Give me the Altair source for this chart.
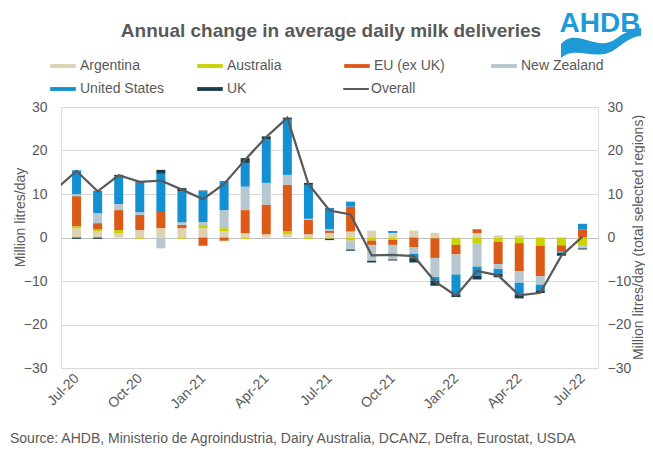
import altair as alt
import pandas as pd

months = ["Jul-20", "Aug-20", "Sep-20", "Oct-20", "Nov-20", "Dec-20",
          "Jan-21", "Feb-21", "Mar-21", "Apr-21", "May-21", "Jun-21",
          "Jul-21", "Aug-21", "Sep-21", "Oct-21", "Nov-21", "Dec-21",
          "Jan-22", "Feb-22", "Mar-22", "Apr-22", "May-22", "Jun-22", "Jul-22"]

series = ["Argentina", "Australia", "EU (ex UK)", "New Zealand", "United States", "UK"]
colors = ["#DDD3B3", "#C9D300", "#DB5A17", "#B6C7CF", "#1290D2", "#1D3E4D"]

argentina = [2.15, 1.45, 0.9, 1.7, 2.15, 2.15, 2.15, 1.45, 1.0, 0.75, 0.75, 0.75,
             1.05, 1.4, 1.6, 1.05, 1.6, 1.1, -0.2, 1.0, 0.5, 0.5, 0.0, 0.0, 0.0]
australia = [0.45, 0.4, 0.8, -0.3, 0.0, -0.3, 0.7, 0.7, -0.3, 0.0, 0.7, -0.3,
             -0.3, -0.7, -0.7, -0.55, 0.0, -0.2, -1.5, -1.3, -1.0, -1.3, -1.9, -1.8, -1.9]
eu = [6.9, 1.45, 4.6, 3.5, 3.7, 0.75, -1.9, -0.75, 5.3, 6.8, 10.7, 3.3,
      0.55, 5.7, -1.0, -1.15, -2.3, -4.5, -2.2, 0.9, -5.1, -6.45, -7.0, -1.5, 1.8]
new_zealand = [0.45, 2.3, 1.4, 0.6, -2.5, 0.6, 0.7, 4.15, 5.4, 5.0, 2.25, 0.25,
               0.3, -2.05, -3.65, -3.35, -1.45, -4.4, -4.6, -5.4, -1.15, -2.65, -1.95, -0.1, -0.6]
united_states = [5.5, 5.15, 6.3, 6.9, 8.8, 7.1, 7.1, 6.55, 5.45, 10.0, 12.7, 7.8,
                 4.9, 1.15, 0.0, 0.45, -1.0, -0.85, -4.6, -2.05, -1.15, -2.7, -1.3, -0.15, 1.35]
uk = [-0.3, -0.3, 0.4, 0.1, 0.9, 0.75, 0.15, 0.15, 1.1, 0.7, 0.45, 0.45,
      -0.3, -0.3, -0.4, -0.25, -1.0, -1.15, -0.6, -0.9, -0.75, -0.9, -0.6, -0.65, -0.25]

# Overall line starts one month earlier (Jun-20), clipped at the plot edge
overall_index = list(range(-1, 25))
overall = [11.0, 15.3, 10.6, 14.3, 12.8, 13.1, 11.0, 8.8, 12.3, 17.9, 23.1, 27.5, 12.3,
           6.2, 5.3, -4.1, -4.0, -4.3, -10.1, -13.4, -7.7, -8.7, -13.3, -12.7, -4.2, 0.2]

tick_values = list(range(0, 25, 3))

values_by_series = [argentina, australia, eu, new_zealand, united_states, uk]
rows = []
for si, (name, vals) in enumerate(zip(series, values_by_series)):
    for i, v in enumerate(vals):
        rows.append({"idx": i, "month": months[i], "series": name, "order": si, "value": v})
bars_df = pd.DataFrame(rows)
line_df = pd.DataFrame({"idx": overall_index, "value": overall, "series": "Overall"})

FONT = "Liberation Sans"
TXT = "#595959"

label_array = "[" + ",".join("'" + m + "'" for m in months) + "]"
x_scale = alt.Scale(domain=[-0.5, 24.5], nice=False, zero=False)
x_axis = alt.Axis(values=tick_values, labelExpr=label_array + "[datum.value]",
                  labelAngle=315, labelAlign="right", labelBaseline="middle",
                  labelFontSize=14, labelFont=FONT, labelColor=TXT, labelPadding=8,
                  ticks=False, domain=False, grid=False, title=None)

grid_color = {"condition": {"test": "datum.value === 0", "value": "#BFBFBF"}, "value": "#D9D9D9"}

swatch = "M-1.6,-0.24L1.6,-0.24L1.6,0.24L-1.6,0.24Z"

bars = alt.Chart(bars_df).mark_bar(size=9).encode(
    x=alt.X("idx:Q", scale=x_scale, axis=x_axis),
    y=alt.Y("value:Q", stack="zero",
            scale=alt.Scale(domain=[-30, 30], nice=False),
            axis=alt.Axis(values=[-30, -20, -10, 0, 10, 20, 30], grid=True, gridColor=grid_color,
                          domain=False, ticks=False, labelFontSize=14, labelFont=FONT,
                          labelColor=TXT, labelPadding=14, title="Million litres/day",
                          titleFontSize=14, titleFont=FONT, titleColor=TXT, titleFontWeight="normal",
                          titleAngle=270, titleX=-41, titleY=110, titleAlign="center",
                          titleBaseline="middle")),
    color=alt.Color("series:N", scale=alt.Scale(domain=series, range=colors),
                    legend=alt.Legend(orient="none", legendX=-6, legendY=-49, direction="horizontal",
                                      columns=4, title=None, symbolType=swatch, symbolSize=256,
                                      symbolStrokeWidth=0, symbolOpacity=1, labelFontSize=14,
                                      labelFont=FONT, labelColor=TXT, labelOffset=9,
                                      gridAlign="all", columnPadding=32, rowPadding=8,
                                      padding=0, labelLimit=200)),
    order=alt.Order("order:Q", sort="ascending"),
)

line = alt.Chart(line_df).mark_line(clip=True, strokeWidth=2.25).encode(
    x=alt.X("idx:Q", scale=x_scale, axis=x_axis),
    y=alt.Y("value:Q", scale=alt.Scale(domain=[-30, 30], nice=False),
            axis=alt.Axis(orient="right", values=[-30, -20, -10, 0, 10, 20, 30], grid=False,
                          domain=False, ticks=False, labelFontSize=14, labelFont=FONT,
                          labelColor=TXT, labelPadding=9,
                          title="Million litres/day (total selected regions)",
                          titleFontSize=14, titleFont=FONT, titleColor=TXT, titleFontWeight="normal",
                          titleAngle=270, titleX=40, titleY=130, titleAlign="center",
                          titleBaseline="middle")),
    stroke=alt.Stroke("series:N", scale=alt.Scale(domain=["Overall"], range=["#595959"]),
                      legend=alt.Legend(orient="none", legendX=286, legendY=-27, title=None,
                                        symbolType="M-1.6,0L1.6,0", symbolSize=256,
                                        symbolStrokeWidth=2, labelFontSize=14, labelFont=FONT,
                                        labelColor=TXT, labelOffset=6, padding=0)),
)

one = pd.DataFrame({"t": [0]})
title = alt.Chart(one).mark_text(text="Annual change in average daily milk deliveries",
                                 fontSize=19, fontWeight="bold", font=FONT, color=TXT,
                                 align="center", baseline="alphabetic").encode(
    x=alt.value(270), y=alt.value(-70))
source = alt.Chart(one).mark_text(
    text="Source: AHDB, Ministerio de Agroindustria, Dairy Australia, DCANZ, Defra, Eurostat, USDA",
    fontSize=14, font=FONT, color=TXT, align="left", baseline="alphabetic").encode(
    x=alt.value(-51), y=alt.value(336))
logo = alt.Chart(one).mark_text(text="AHDB", fontSize=28, fontWeight="bold", font=FONT,
                                color="#1E9BD7", align="center", baseline="alphabetic").encode(
    x=alt.value(539), y=alt.value(-75))
wave = alt.Chart(one).mark_point(
    shape="M-1,0.1 C-0.6,-0.35 -0.1,0.35 0.4,-0.05 C0.6,-0.2 0.85,-0.3 1,-0.3 L1,-0.1 C0.8,-0.1 0.6,0.05 0.4,0.2 C-0.1,0.6 -0.6,0.1 -1,0.45 Z",
    filled=True, color="#1E9BD7", opacity=1, size=6400, strokeWidth=0).encode(
    x=alt.value(540), y=alt.value(-67))

chart = alt.layer(bars, line, title, source, logo, wave).resolve_scale(
    y="independent", color="independent"
).properties(
    width=537, height=261,
    autosize=alt.AutoSizeParams(type="none"),
    padding={"left": 53, "top": 99, "right": 47, "bottom": 79},
).configure_view(stroke=None).configure(background="white")

chart.save("out.html", embed_options={"renderer": "svg", "actions": False})
